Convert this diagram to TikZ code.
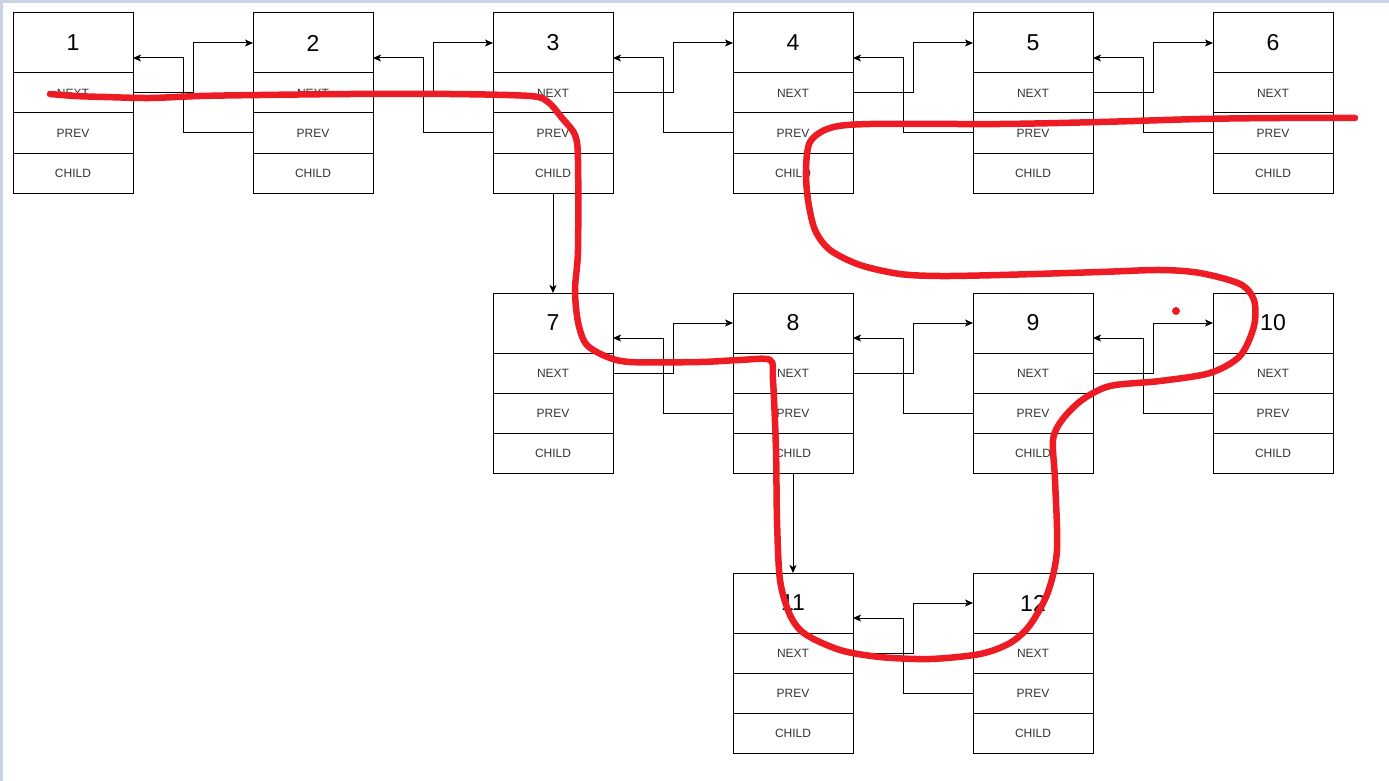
\documentclass[tikz,border=0pt]{standalone}
\usepackage{fontspec}
\setmainfont{Liberation Sans}
\usepackage{tikz}
\usetikzlibrary{arrows.meta}
\definecolor{penred}{HTML}{ED1C24}
\definecolor{frame}{HTML}{C9D3E6}

\tikzset{
  cell/.style={draw, line width=1pt, minimum width=120pt, minimum height=40pt,
    inner sep=0pt, outer sep=0pt, text=black!80, font=\fontsize{12}{12}\selectfont},
  head/.style={cell, minimum height=60pt, text=black, font=\fontsize{23}{23}\selectfont},
  link/.style={-{Stealth[length=8pt, width=7pt, inset=2pt]}, line width=1pt},
}

\begin{document}
\begin{tikzpicture}[x=1pt, y=-1pt]
\useasboundingbox (0,0) rectangle (1389,781);
\fill[white] (0,0) rectangle (1389,781);
\fill[frame] (0,0) rectangle (1389,3);
\fill[frame] (0,0) rectangle (3,781);
% the boxes
\foreach \n/\x/\y in {1/13/13, 2/253/13, 3/493/13, 4/733/13, 5/973/13, 6/1213/13,
                      7/493/293, 8/733/293, 9/973/293, 10/1213/293,
                      11/733/573, 12/973/573} {
  \node[head, anchor=north west] (n\n) at (\x,\y) {\n};
  \node[cell, anchor=north] (next\n) at (n\n.south) {NEXT};
  \node[cell, anchor=north] (prev\n) at (next\n.south) {PREV};
  \node[cell, anchor=north] (child\n) at (prev\n.south) {CHILD};
}
% next and prev links
\foreach \a/\b in {1/2, 2/3, 3/4, 4/5, 5/6, 7/8, 8/9, 9/10, 11/12} {
  \draw[link] (next\a.east) -- ++(60,0) |- (n\b.west);
  \draw[link] (prev\b.west) -- ++(-70,0) |- ([yshift=-15pt]n\a.east);
}
% child links
\draw[link] (child3.south) -- (n7.north);
\draw[link] (child8.south) -- (n11.north);
% the red pen stroke
\draw[penred, line width=6.5pt, line cap=round, line join=round]
  plot[smooth, tension=0.5] coordinates {
  (50,94) (75,96) (105,97) (150,98) (200,96) (260,95) (350,94) (450,94)
  (530,96) (548,102) (562,118) (575,135) (578,160) (578,250) (575,290)
  (578,322) (586,344) (605,356) (630,362) (700,362) (740,360) (770,360)
  (773,380) (776,450) (777,520) (780,580) (790,615) (805,634) (840,650)
  (880,657) (930,659) (980,654) (1010,643) (1030,625) (1048,592) (1057,550)
  (1055,480) (1053,440) (1062,420) (1082,400) (1110,386) (1160,381)
  (1210,373) (1240,356) (1254,326) (1254,300) (1240,284) (1200,273)
  (1160,270) (1100,272) (1000,275) (940,276) (900,274) (860,265) (830,250)
  (815,230) (808,200) (806,170) (810,142) (830,128) (870,124) (1000,124)
  (1100,122) (1200,119) (1280,118) (1355,118)};
\fill[penred] (1176,311) circle (4);
\end{tikzpicture}
\end{document}
